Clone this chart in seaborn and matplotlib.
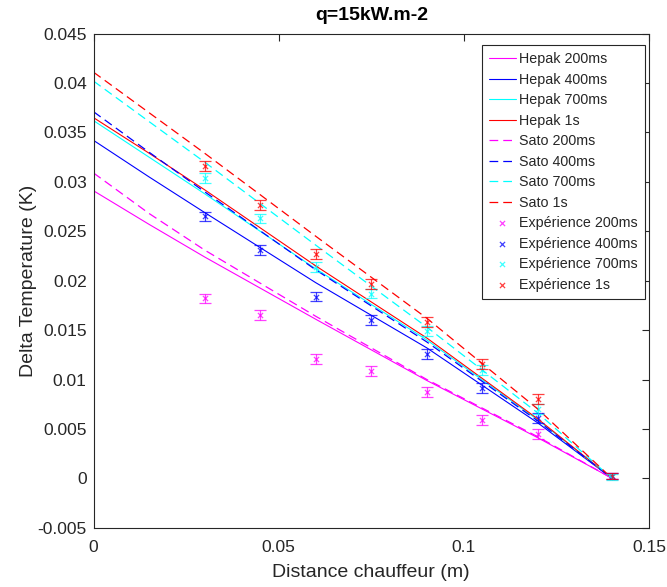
import numpy as np
import pandas as pd
import matplotlib
matplotlib.use("Agg")
import matplotlib.pyplot as plt
import seaborn as sns

# ── Data ──────────────────────────────────────────────────────────────────────
# Model curves: distance from heater (m) vs delta T (K)
x_model = [0.0, 0.015, 0.03, 0.06, 0.09, 0.12, 0.14]

hepak_200 = [0.0291, 0.0257, 0.0224, 0.0161, 0.0099, 0.0041, 0.0]
hepak_400 = [0.0342, 0.0305, 0.0269, 0.0198, 0.0132, 0.0056, 0.0]
hepak_700 = [0.0362, 0.0325, 0.0288, 0.0212, 0.0140, 0.0059, 0.0]
hepak_1s  = [0.0365, 0.0329, 0.0292, 0.0215, 0.0142, 0.0060, 0.0]

sato_200 = [0.0309, 0.0268, 0.0231, 0.0164, 0.0100, 0.0042, 0.0]
sato_400 = [0.0371, 0.0330, 0.0290, 0.0211, 0.0138, 0.0058, 0.0]
sato_700 = [0.0402, 0.0361, 0.0320, 0.0236, 0.0153, 0.0066, 0.0]
sato_1s  = [0.0411, 0.0370, 0.0329, 0.0245, 0.0162, 0.0070, 0.0]

# Measurements
x_exp   = [0.03, 0.045, 0.06, 0.075, 0.09, 0.105, 0.12, 0.14]
exp_200 = [0.0182, 0.0165, 0.0121, 0.0109, 0.0087, 0.0059, 0.0045, 0.0002]
exp_400 = [0.0265, 0.0231, 0.0184, 0.0160, 0.0126, 0.0091, 0.0061, 0.0002]
exp_700 = [0.0304, 0.0263, 0.0214, 0.0187, 0.0149, 0.0110, 0.0070, 0.0001]
exp_1s  = [0.0316, 0.0277, 0.0227, 0.0197, 0.0158, 0.0116, 0.0080, 0.0002]
exp_err = [0.0005, 0.0005, 0.0005, 0.0005, 0.0005, 0.0005, 0.0005, 0.0003]

times  = ["200ms", "400ms", "700ms", "1s"]
colors = ["#ff00ff", "#0000ff", "#00ffff", "#ff0000"]

x_ticks = [0, 0.05, 0.1, 0.15]
y_ticks = [-0.005, 0, 0.005, 0.01, 0.015, 0.02, 0.025, 0.03, 0.035, 0.04, 0.045]

# ── Plot ──────────────────────────────────────────────────────────────────────
sns.set_style("white")
plt.rcParams["font.family"] = ["Liberation Sans", "DejaVu Sans"]
plt.rcParams["axes.unicode_minus"] = False

ink = "#262626"
fig = plt.figure(figsize=(6.67, 5.87), dpi=100)
ax = fig.add_axes([0.1403, 0.101, 0.8327, 0.8416])

hepak = [hepak_200, hepak_400, hepak_700, hepak_1s]
sato = [sato_200, sato_400, sato_700, sato_1s]
exps = [exp_200, exp_400, exp_700, exp_1s]

for t, c, y in zip(times, colors, hepak):
    sns.lineplot(x=x_model, y=y, color=c, linewidth=0.8, label=f"Hepak {t}", ax=ax)

for t, c, y in zip(times, colors, sato):
    sns.lineplot(x=x_model, y=y, color=c, linewidth=0.9, dashes=False, ax=ax,
                 label=f"Sato {t}").lines[-1].set_dashes((7, 4))

for t, c, y in zip(times, colors, exps):
    ax.errorbar(x_exp, y, yerr=exp_err, fmt="none", ecolor=c, elinewidth=0.9,
                capsize=4, capthick=0.9, alpha=0.75)
    sns.scatterplot(x=x_exp, y=y, color=c, marker="x", s=14, linewidth=0.9,
                    alpha=0.75, label=f"Expérience {t}", ax=ax)

ax.set_xlim(0, 0.15)
ax.set_ylim(-0.005, 0.045)
ax.set_xticks(x_ticks)
ax.set_yticks(y_ticks)
ax.set_xticklabels([f"{v:g}" for v in x_ticks])
ax.set_yticklabels([f"{v:g}" for v in y_ticks])
ax.tick_params(direction="in", length=5, width=0.8, colors=ink, labelsize=12.5,
               top=True, right=True, pad=5)
ax.tick_params(axis="x", pad=9)
for s in ax.spines.values():
    s.set_color(ink)
    s.set_linewidth(0.8)

ax.set_xlabel("Distance chauffeur (m)", fontsize=14, color=ink, labelpad=6)
ax.set_ylabel("Delta Temperature (K)", fontsize=14, color=ink, labelpad=0)
ax.set_title("q=15kW.m-2", fontsize=14, fontweight="bold", color="black", pad=10)

leg = ax.legend(loc="upper right", bbox_to_anchor=(0.9928, 0.9771), borderaxespad=0,
                fontsize=10.3, frameon=True, fancybox=False, framealpha=1,
                edgecolor=ink, handlelength=1.85, handletextpad=0.25,
                borderpad=0.5, labelspacing=0.455, markerscale=1.0)
leg.get_frame().set_linewidth(0.8)

fig.savefig("out.png", dpi=100)
